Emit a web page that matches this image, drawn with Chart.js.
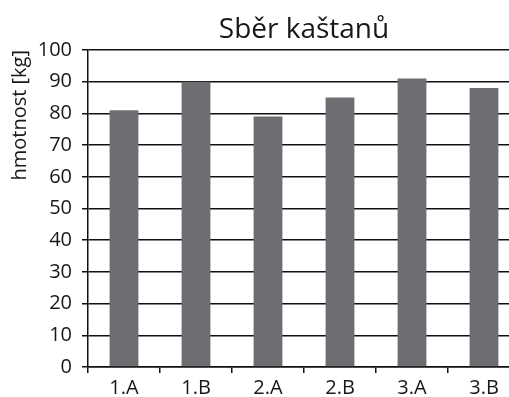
<!DOCTYPE html>
<html>
<head>
<meta charset="utf-8">
<script src="https://cdn.jsdelivr.net/npm/chart.js@4/dist/chart.umd.min.js"></script>
<style>
  html, body { margin: 0; padding: 0; background: #fff; overflow: hidden; }
  #wrap { width: 520px; height: 397px; position: relative; }
</style>
</head>
<body>
<div id="wrap"><canvas id="myChartContainer"></canvas></div>
<script>
// data
const tridy = ['1.A', '1.B', '2.A', '2.B', '3.A', '3.B'];
const hmotnost = [81, 90, 79, 85, 91, 88];
const yTicks = [0, 10, 20, 30, 40, 50, 60, 70, 80, 90, 100];

const textColor = '#1a1718';
const fontName = '"Open Sans", "Noto Sans", sans-serif';

const ctx = document.getElementById('myChartContainer').getContext('2d');

new Chart(ctx, {
  type: 'bar',
  data: {
    labels: tridy,
    datasets: [{
      label: 'hmotnost',
      data: hmotnost,
      backgroundColor: '#6d6e71',
      barPercentage: 0.4,
      categoryPercentage: 1
    }]
  },
  options: {
    responsive: true,
    maintainAspectRatio: false,
    animation: false,
    layout: { padding: 0 },
    plugins: {
      legend: { display: false },
      tooltip: { enabled: false },
      title: {
        display: true,
        text: 'Sběr kaštanů',
        fullSize: false,
        color: textColor,
        font: { family: fontName, size: 28, weight: 'normal', lineHeight: 1.2 },
        padding: { top: 13, bottom: 3.4 }
      }
    },
    scales: {
      x: {
        afterFit: (scale) => { scale.height = 30; },
        border: { color: '#111', width: 1.5 },
        grid: { offset: true, drawOnChartArea: false, color: '#111', lineWidth: 1.5, tickLength: 6 },
        ticks: {
          color: textColor,
          padding: 3,
          font: { family: fontName, size: 20 }
        }
      },
      y: {
        min: 0,
        max: 100,
        afterFit: (scale) => { scale.width = 88; },
        afterBuildTicks: (scale) => { scale.ticks = yTicks.map(v => ({ value: v })); },
        border: { color: '#111', width: 1.5 },
        grid: { color: '#111', lineWidth: 1.5, tickLength: 6 },
        ticks: {
          color: textColor,
          padding: 10,
          font: { family: fontName, size: 20 }
        },
        title: {
          display: true,
          text: 'hmotnost [kg]',
          align: 'end',
          color: textColor,
          font: { family: fontName, size: 20 },
          padding: { top: 8, bottom: 0 }
        }
      }
    }
  }
});
</script>
</body>
</html>
